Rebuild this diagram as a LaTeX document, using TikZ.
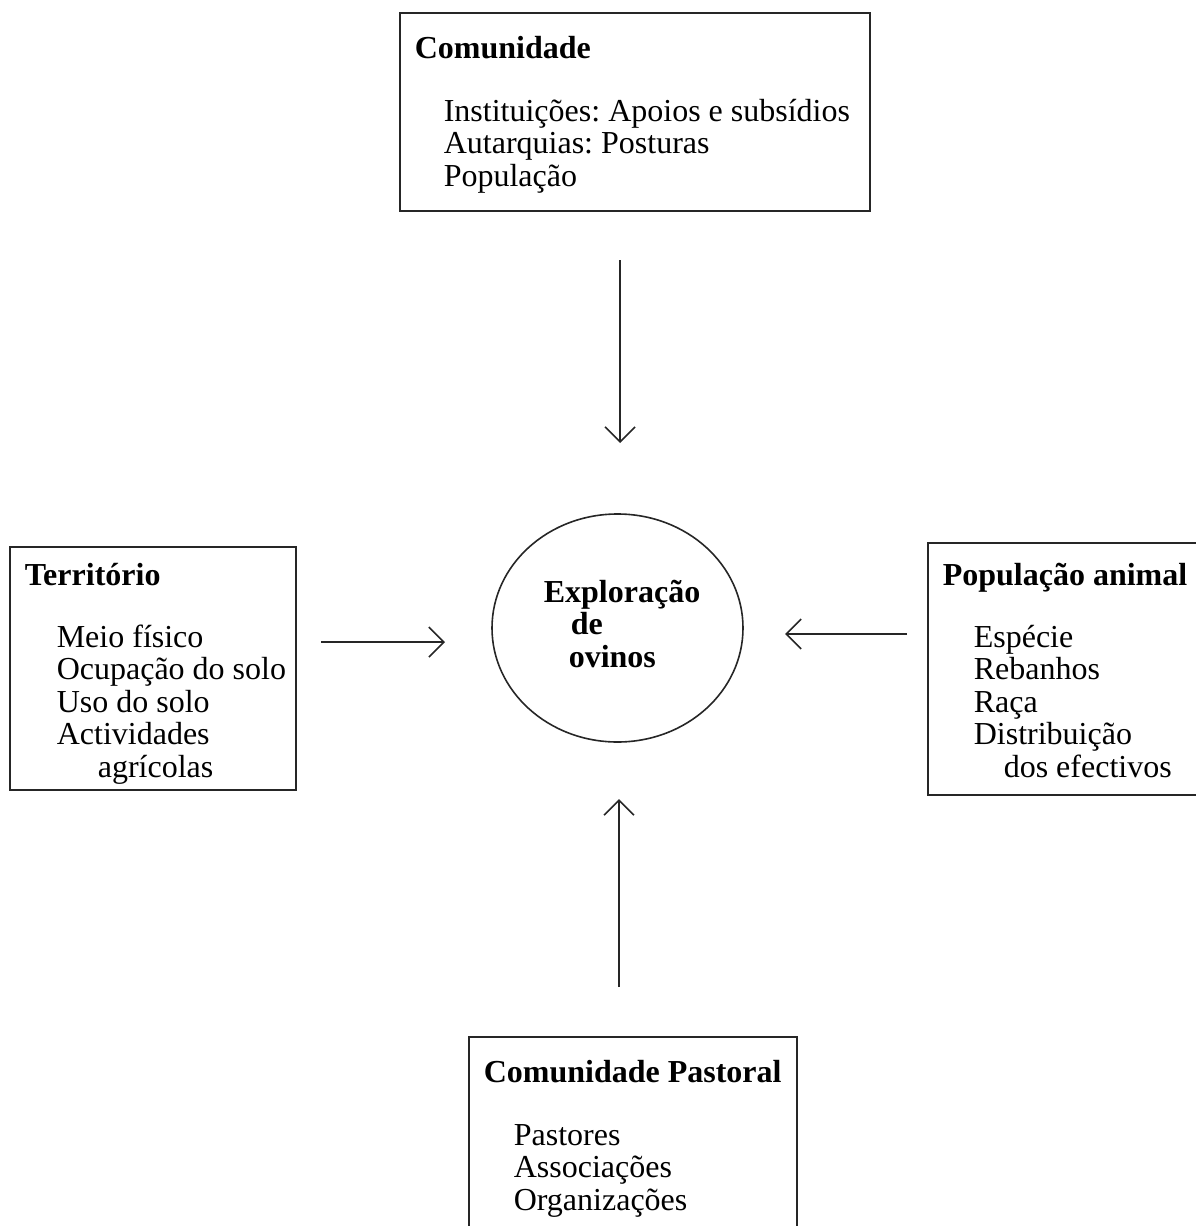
\documentclass[tikz,border=0pt]{standalone}
\usepackage{fontspec}
\setmainfont{Liberation Serif}
\frenchspacing
\usetikzlibrary{arrows.meta,shapes.geometric}
\begin{document}
\begin{tikzpicture}[x=0.5pt,y=-0.5pt,>={Straight Barb[length=7.5pt,width=15pt]},
 line width=0.8pt,
 txt/.style={anchor=base west,inner sep=0pt,align=left,font=\fontsize{16}{16.25}\selectfont},
 ttl/.style={txt,font=\fontsize{16}{16.25}\selectfont\bfseries}]
 \useasboundingbox (0,0) rectangle (1195,1226);
 % caixas
 \draw[black!85] (400,13) rectangle (870,211);
 \draw[black!85] (10,547) rectangle (296,790);
 \draw[black!85] (928,543) rectangle (1215,795);
 \draw[black!85] (469,1037) rectangle (797,1245);
 \node (expl) [draw,black!85,ellipse,minimum width=125.5pt,minimum height=114pt,inner sep=0pt] at (617.5,628) {};
 % textos (base = ultima linha)
 \node (comT) [ttl] at (414,58) {Comunidade};
 \node (comL) [txt] at (443,186) {Instituições: Apoios e subsídios\\Autarquias: Posturas\\População};
 \node (terT) [ttl] at (24,585) {Território};
 \node (terL) [txt] at (56,777) {Meio físico\\Ocupação do solo\\Uso do solo\\Actividades\\\hspace*{20.5pt}agrícolas};
 \node (aniT) [ttl] at (942,585) {População animal};
 \node (aniL) [txt] at (973,777) {Espécie\\Rebanhos\\Raça\\Distribuição\\\hspace*{15pt}dos efectivos};
 \node (pasT) [ttl] at (483,1082) {Comunidade Pastoral};
 \node (pasL) [txt] at (513,1210) {Pastores\\Associações\\Organizações};
 \node (explT) [ttl] at (543,667) {Exploração\\\hspace*{13.5pt}de\\\hspace*{12.5pt}ovinos};
 % setas
 \coordinate (comS) at (620,260);  \coordinate (explN) at (620,443);
 \coordinate (terS) at (321,642);  \coordinate (explW) at (445,642);
 \coordinate (aniS) at (907,634);  \coordinate (explE) at (785,634);
 \coordinate (pasS) at (619,987);  \coordinate (explS) at (619,799);
 \draw[->,black!85] (comS)--(explN);
 \draw[->,black!85] (terS)--(explW);
 \draw[->,black!85] (aniS)--(explE);
 \draw[->,black!85] (pasS)--(explS);
\end{tikzpicture}
\end{document}
